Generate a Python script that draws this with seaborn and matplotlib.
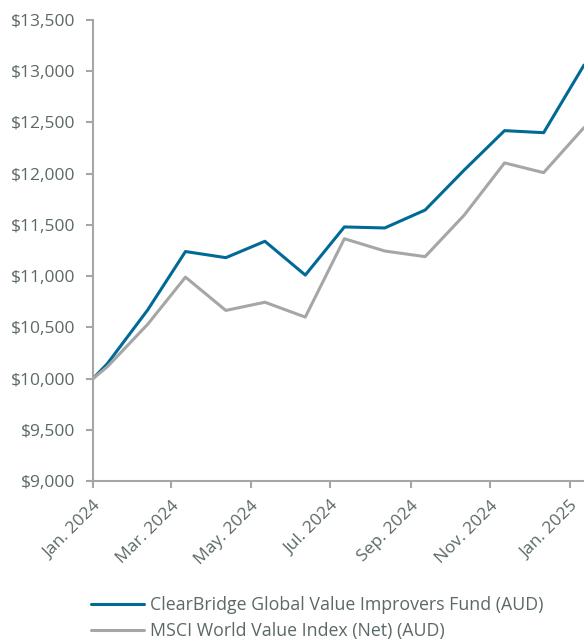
import pandas as pd
import matplotlib.pyplot as plt
import seaborn as sns

# --- data ---
dates = ["2024-01-01", "2024-01-12", "2024-02-12", "2024-03-12", "2024-04-12",
         "2024-05-12", "2024-06-12", "2024-07-12", "2024-08-12", "2024-09-12",
         "2024-10-12", "2024-11-12", "2024-12-12", "2025-01-12"]
fund = [10000, 10145, 10670, 11240, 11180, 11340, 11010, 11480, 11470, 11645,
        12035, 12420, 12400, 13060]
index = [10000, 10115, 10530, 10990, 10665, 10745, 10600, 11365, 11245, 11190,
         11595, 12105, 12010, 12450]
series_names = ["ClearBridge Global Value Improvers Fund (AUD)",
                "MSCI World Value Index (Net) (AUD)"]
tick_dates = ["2024-01-01", "2024-03-01", "2024-05-01", "2024-07-01",
              "2024-09-01", "2024-11-01", "2025-01-01"]
tick_labels = ["Jan. 2024", "Mar. 2024", "May. 2024", "Jul. 2024",
               "Sep. 2024", "Nov. 2024", "Jan. 2025"]
y_ticks = [9000, 9500, 10000, 10500, 11000, 11500, 12000, 12500, 13000, 13500]

df = pd.DataFrame({
    "date": pd.to_datetime(dates * 2),
    "value": fund + index,
    "series": [series_names[0]] * len(dates) + [series_names[1]] * len(dates),
})

sns.set_theme(style="white")
plt.rcParams['font.family'] = ['Open Sans', 'DejaVu Sans']

text_col = "#5b6868"
axis_col = "#a6a6a6"
palette = {series_names[0]: "#006a96", series_names[1]: "#a6a6a6"}

fig = plt.figure(figsize=(5.84, 6.41), dpi=100)
ax = fig.add_axes([93 / 584, 1 - 481 / 641, 1 - 93 / 584, (481 - 20) / 641])

sns.lineplot(data=df, x="date", y="value", hue="series", palette=palette,
             linewidth=2.2, ax=ax, legend=False)

ax.set_xlim(pd.Timestamp(dates[0]), pd.Timestamp(dates[-1]))
ax.set_ylim(9000, 13500)
ax.set_yticks(y_ticks)
ax.set_yticklabels([f"${v:,.0f}" for v in y_ticks])
ax.set_xticks(pd.to_datetime(tick_dates))
ax.set_xticklabels(tick_labels, rotation=45, ha="right", rotation_mode="anchor")
ax.set_xlabel("")
ax.set_ylabel("")

for s in ["top", "right"]:
    ax.spines[s].set_visible(False)
for s in ["left", "bottom"]:
    ax.spines[s].set_color(axis_col)
    ax.spines[s].set_linewidth(1.5)
ax.tick_params(axis="both", which="both", length=5, width=1.5, color=axis_col,
               labelcolor=text_col, labelsize=12.5, direction="out",
               bottom=True, left=True)
ax.tick_params(axis="y", pad=8)
ax.tick_params(axis="x", pad=7)

# legend below the plot
handles = [plt.Line2D([], [], color=palette[n], linewidth=2.2) for n in series_names]
fig.legend(handles, series_names, loc="upper left",
           bbox_to_anchor=(91 / 584, 1 - 596 / 641), frameon=False,
           fontsize=12.8, labelcolor=text_col, handlelength=3.0,
           handletextpad=0.3, labelspacing=0.45, borderpad=0, borderaxespad=0)

fig.savefig("out.png", dpi=100)
